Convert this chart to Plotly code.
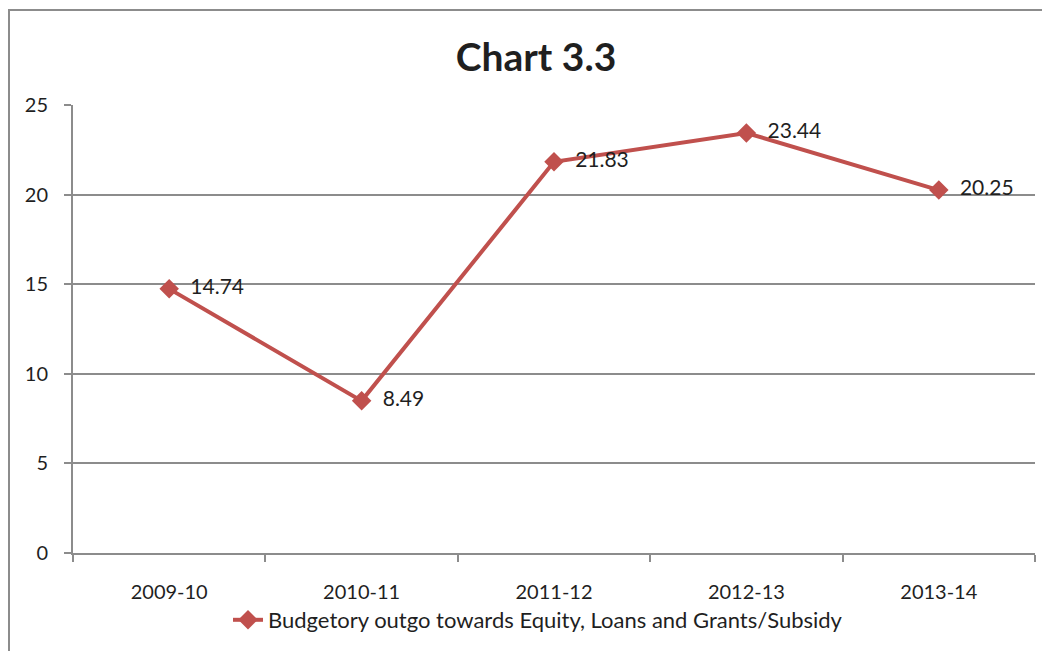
import plotly.graph_objects as go

categories = ["2009-10", "2010-11", "2011-12", "2012-13", "2013-14"]
values = [14.74, 8.49, 21.83, 23.44, 20.25]
series_name = "Budgetory outgo towards Equity, Loans and Grants/Subsidy"

W, H = 1050, 651
ml, mr, mt, mb = 65, 23, 97, 106
pw, ph = W - ml - mr, H - mt - mb

FONT = "Lato, Liberation Sans, sans-serif"
RED = "#C0504D"
TXT = "#1f1f1f"
GRAY = "#8c8c8c"

fig = go.Figure()
fig.add_trace(go.Scatter(
    x=categories, y=values, name=series_name,
    mode="lines+markers+text",
    line=dict(color=RED, width=4),
    marker=dict(symbol="diamond", size=15, color=RED),
    text=["\u00a0\u00a0" + f"{v:.2f}" for v in values],
    textposition="middle right",
    textfont=dict(size=21, color=TXT, family=FONT),
    cliponaxis=False,
))

def px(x):
    return (x - ml) / pw

def py(y):
    return 1 - (y - mt) / ph

fig.add_shape(type="rect", xref="paper", yref="paper",
              x0=px(1), x1=px(1080), y0=py(2), y1=py(700),
              line=dict(color=GRAY, width=2), fillcolor="rgba(0,0,0,0)")

fig.update_layout(
    width=W, height=H,
    margin=dict(l=ml, r=mr, t=mt, b=mb),
    paper_bgcolor="white", plot_bgcolor="white",
    title=dict(text="<b>Chart 3.3</b>", x=528 / W, xanchor="center", y=1 - 49 / H, yanchor="middle",
               xref="container", font=dict(size=39, color=TXT, family=FONT)),
    font=dict(family=FONT, size=20, color=TXT),
    showlegend=True,
    legend=dict(orientation="h", x=px(530), xanchor="center", y=py(612), yanchor="middle",
                font=dict(size=22, family=FONT, color=TXT), bgcolor="rgba(0,0,0,0)"),
)
fig.update_xaxes(
    type="category", categoryorder="array", categoryarray=categories,
    range=[-0.5, len(categories) - 0.5],
    tickson="boundaries",
    showgrid=False, zeroline=False,
    showline=True, linecolor=GRAY, linewidth=2,
    ticks="outside", tickcolor=GRAY, ticklen=7, tickwidth=2,
    tickfont=dict(size=20, family=FONT, color=TXT),
    ticklabelstandoff=20,
)
fig.update_yaxes(
    range=[0, 25], dtick=5, tick0=0,
    showgrid=True, gridcolor=GRAY, gridwidth=2,
    zeroline=False, showline=True, linecolor=GRAY, linewidth=2,
    ticks="outside", tickcolor=GRAY, ticklen=7, tickwidth=2,
    tickfont=dict(size=20, family=FONT, color=TXT),
    ticklabelstandoff=12,
)

fig.write_html("out.html")
